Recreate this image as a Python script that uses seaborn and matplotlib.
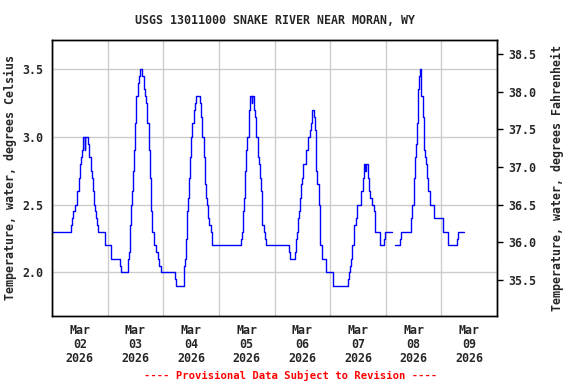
import numpy as np
import pandas as pd
import matplotlib
matplotlib.use("Agg")
import matplotlib.pyplot as plt
import matplotlib.dates as mdates
import seaborn as sns

# ---- data (change points: hours after 2026-03-02 00:00, temperature degC) ----
hours_a = [0, 8.2, 8.6, 9.2, 9.8, 10.9, 11.5, 12.1, 12.5, 12.9, 13.5, 14.2, 14.4, 15.4, 16.0,
           16.8, 17.4, 17.8, 18.3, 18.7, 19.1, 19.6, 19.8, 23.0, 25.6, 29.2, 29.8, 32.7, 33.2,
           33.7, 34.2, 34.5, 34.8, 35.4, 35.8, 36.4, 37.0, 37.5, 38.1, 39.0, 39.6, 40.1, 40.7,
           41.1, 41.7, 42.3, 42.7, 43.3, 43.9, 45.0, 45.6, 46.2, 47.2, 53.1, 53.3, 56.8, 57.3,
           57.8, 58.1, 58.7, 59.0, 59.6, 60.0, 60.6, 61.1, 61.7, 62.3, 63.7, 64.3, 64.9, 65.5,
           66.0, 66.5, 66.9, 67.5, 67.9, 68.5, 69.1, 81.4, 81.9, 82.3, 82.7, 83.2, 83.6, 84.2,
           84.9, 85.3, 86.2, 86.5, 87.0, 87.6, 88.2, 88.8, 89.3, 89.9, 90.3, 90.8, 91.4, 91.9,
           92.4, 102.3, 102.7, 104.9, 105.2, 105.6, 106.0, 106.5, 106.9, 107.3, 107.8, 108.3,
           109.5, 110.6, 111.2, 111.6, 112.1, 112.9, 113.4, 113.8, 114.4, 115.0, 115.5, 116.4,
           118.4, 121.3, 127.6, 128.1, 128.6, 128.9, 129.4, 129.6, 130.1, 130.5, 131.0, 131.4,
           131.7, 133.4, 134.0, 134.5, 135.0, 135.3, 136.3, 136.8, 137.4, 138.0, 138.8, 139.3,
           141.4, 143.2, 143.6, 146.9]
temps_a = [2.3, 2.35, 2.4, 2.45, 2.5, 2.6, 2.7, 2.8, 2.85, 2.9, 3.0, 2.9, 3.0, 2.95, 2.85,
           2.75, 2.7, 2.6, 2.5, 2.45, 2.4, 2.35, 2.3, 2.2, 2.1, 2.05, 2.0, 2.1, 2.15,
           2.35, 2.5, 2.6, 2.75, 2.9, 3.1, 3.3, 3.4, 3.45, 3.5, 3.45, 3.35, 3.3, 3.25,
           3.1, 2.9, 2.7, 2.45, 2.3, 2.2, 2.15, 2.1, 2.05, 2.0, 1.95, 1.9, 2.05, 2.1,
           2.25, 2.45, 2.55, 2.7, 2.85, 3.0, 3.1, 3.2, 3.25, 3.3, 3.25, 3.15, 3.0, 2.85,
           2.65, 2.55, 2.5, 2.4, 2.35, 2.3, 2.2, 2.25, 2.3, 2.45, 2.55, 2.75, 2.9, 3.0,
           3.2, 3.3, 3.25, 3.3, 3.2, 3.15, 3.0, 2.85, 2.8, 2.7, 2.6, 2.35, 2.3, 2.25,
           2.2, 2.15, 2.1, 2.15, 2.25, 2.3, 2.4, 2.45, 2.55, 2.65, 2.7, 2.8,
           2.9, 3.0, 3.05, 3.1, 3.2, 3.15, 3.05, 2.75, 2.65, 2.5, 2.2, 2.1,
           2.0, 1.9, 1.95, 2.0, 2.05, 2.1, 2.15, 2.2, 2.3, 2.35, 2.4, 2.45,
           2.5, 2.6, 2.7, 2.8, 2.75, 2.8, 2.7, 2.6, 2.55, 2.5, 2.45, 2.3,
           2.2, 2.25, 2.3, 2.3]
hours_b = [147.9, 150.1, 150.6, 154.8, 155.5, 156.1, 156.7, 157.1, 157.6, 157.9, 158.3, 158.7,
           159.0, 159.4, 159.9, 160.4, 161.0, 161.4, 161.9, 162.4, 162.9, 163.3, 164.7, 168.5,
           170.8, 174.8, 175.3, 177.9]
temps_b = [2.2, 2.25, 2.3, 2.4, 2.5, 2.7, 2.85, 2.95, 3.1, 3.35, 3.45, 3.5,
           3.35, 3.3, 3.15, 2.9, 2.85, 2.8, 2.7, 2.6, 2.55, 2.5, 2.4, 2.3,
           2.2, 2.25, 2.3, 2.3]
day_labels = ["Mar\n02\n2026", "Mar\n03\n2026", "Mar\n04\n2026", "Mar\n05\n2026",
              "Mar\n06\n2026", "Mar\n07\n2026", "Mar\n08\n2026", "Mar\n09\n2026"]
c_ticks = [2.0, 2.5, 3.0, 3.5]
f_ticks = [35.5, 36.0, 36.5, 37.0, 37.5, 38.0, 38.5]

start = pd.Timestamp("2026-03-02 00:00")
seg_a = pd.DataFrame({"time": start + pd.to_timedelta(hours_a, unit="h"), "temp": temps_a})
seg_b = pd.DataFrame({"time": start + pd.to_timedelta(hours_b, unit="h"), "temp": temps_b})

sns.set_theme(style="white")
mono = ["DejaVu Sans Mono"]
plt.rcParams["font.family"] = mono
plt.rcParams["font.weight"] = "bold"
fs = 8.4

fig = plt.figure(figsize=(5.76, 3.84), dpi=100)
ax = fig.add_axes([52 / 576, 1 - 316 / 384, (497 - 52) / 576, (316 - 40) / 384])

for seg in (seg_a, seg_b):
    sns.lineplot(data=seg, x="time", y="temp", ax=ax, color="#0000ff", linewidth=1.0,
                 drawstyle="steps-post", estimator=None)

y0, y1 = 1.679, 3.715
ax.set_ylim(y0, y1)
ax.set_xlim(start, start + pd.Timedelta(days=8))

# x axis: gridlines at midnight, labels at noon
ax.xaxis.set_minor_locator(mdates.DayLocator())
noon = [start + pd.Timedelta(hours=12 + 24 * i) for i in range(8)]
ax.set_xticks(noon)
ax.set_xticklabels(day_labels, fontsize=fs, fontweight="bold", linespacing=1.1)
ax.tick_params(axis="x", which="both", length=0, pad=6)
ax.grid(which="minor", axis="x", color="#cccccc", linewidth=1)
ax.grid(which="major", axis="x", visible=False)

ax.set_yticks(c_ticks)
ax.set_yticklabels([f"{v:.1f}" for v in c_ticks], fontsize=fs, fontweight="bold")
ax.grid(which="major", axis="y", color="#cccccc", linewidth=1)
ax.tick_params(axis="y", length=0, pad=6)

ax.set_xlabel("")
ax.set_ylabel("Temperature, water, degrees Celsius", fontsize=fs, fontweight="bold")
ax.yaxis.set_label_coords((17 - 52) / 445, 0.5)

for s in ax.spines.values():
    s.set_color("black")
    s.set_linewidth(1)

ax2 = ax.twinx()
ax2.set_ylim(y0 * 1.8 + 32, y1 * 1.8 + 32)
ax2.set_yticks(f_ticks)
ax2.set_yticklabels([f"{v:.1f}" for v in f_ticks], fontsize=fs, fontweight="bold")
ax2.tick_params(axis="y", direction="out", length=4, width=1, color="black", pad=4)
ax2.set_ylabel("Temperature, water, degrees Fahrenheit", fontsize=fs, fontweight="bold")
ax2.yaxis.set_label_coords((551 - 52) / 445, 0.5)
ax2.grid(False)
for s in ax2.spines.values():
    s.set_color("black")
    s.set_linewidth(1)

fig.text(275 / 576, 1 - 20 / 384, "USGS 13011000 SNAKE RIVER NEAR MORAN, WY",
         ha="center", va="center", fontsize=fs, fontweight="bold")
fig.text(291 / 576, 1 - 375 / 384, "---- Provisional Data Subject to Revision ----",
         ha="center", va="center", fontsize=7.6, fontweight="bold", color="#ff0000")

fig.savefig("out.png", dpi=100)
